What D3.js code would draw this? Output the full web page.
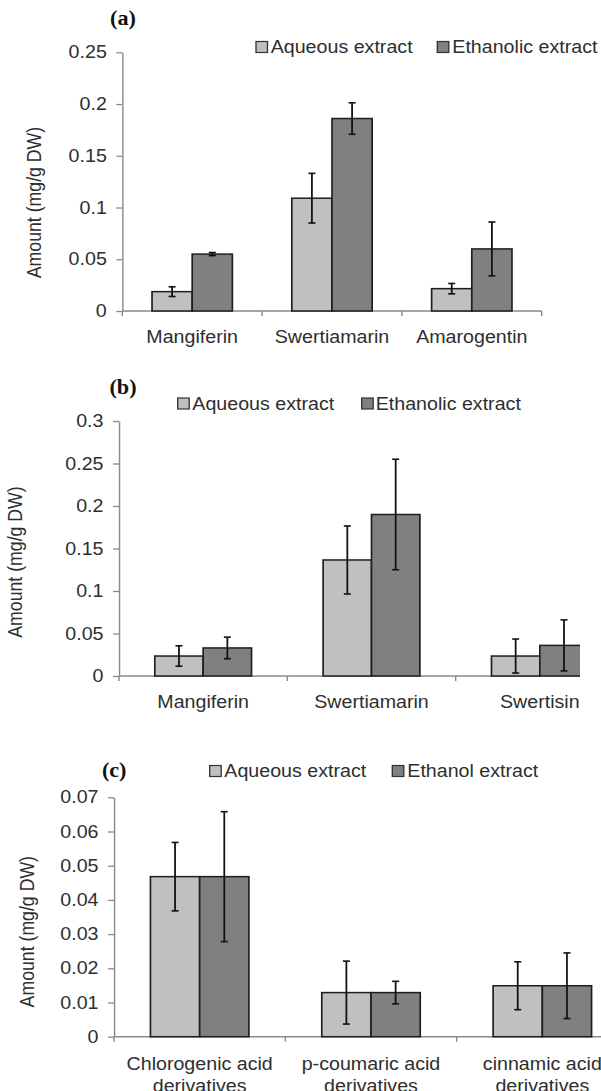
<!DOCTYPE html>
<html>
<head>
<meta charset="utf-8">
<script src="https://cdn.jsdelivr.net/npm/d3@7"></script>
<style>
  body { margin: 0; background: #fff; }
</style>
</head>
<body>
<script>
// datos de los tres paneles (a), (b), (c)

var catsA   = ["Mangiferin", "Swertiamarin", "Amarogentin"];
var aqA     = [0.0187, 0.109, 0.0216];
var aqErrA  = [0.0047, 0.024, 0.005];
var ethA    = [0.055, 0.186, 0.060];
var ethErrA = [0.0015, 0.0152, 0.026];
var ticksA  = [0, 0.05, 0.1, 0.15, 0.2, 0.25];
var legA    = ["Aqueous extract", "Ethanolic extract"];

var catsB   = ["Mangiferin", "Swertiamarin", "Swertisin"];
var aqB     = [0.0235, 0.1365, 0.0235];
var aqErrB  = [0.012, 0.04, 0.02];
var ethB    = [0.033, 0.19, 0.036];
var ethErrB = [0.0127, 0.065, 0.03];
var ticksB  = [0, 0.05, 0.1, 0.15, 0.2, 0.25, 0.3];
var legB    = ["Aqueous extract", "Ethanolic extract"];

var catsC   = [["Chlorogenic acid", "derivatives"],
               ["p-coumaric acid", "derivatives"],
               ["cinnamic acid", "derivatives"]];
var aqC     = [0.0468, 0.0129, 0.0149];
var aqErrC  = [0.010, 0.0092, 0.007];
var ethC    = [0.0468, 0.0129, 0.0149];
var ethErrC = [0.019, 0.0033, 0.0096];
var ticksC  = [0, 0.01, 0.02, 0.03, 0.04, 0.05, 0.06, 0.07];
var legC    = ["Aqueous extract", "Ethanol extract"];

// la figura original esta estirada horizontalmente
var SX = 1.11;
var FONT = "'Liberation Sans', Arial, sans-serif";
var FS = 17.7;
var AQ_FILL = "#c0c0c0", ETH_FILL = "#808080";
var AXIS = "#8a8a8a", INK = "#1e1e1e", TXT = "#2e2e2e";

var svg = d3.select("body").append("svg")
    .attr("width", 601)
    .attr("height", 1091);

var root = svg.append("g").attr("transform", "scale(" + SX + ",1)");

function sx(v) { return v / SX; }

function drawPanel(p, idx) {
    var g = root.append("g");
    var n = p.cats.length;

    var x = d3.scaleBand().domain(d3.range(n)).range([sx(p.x0), sx(p.x1)]);
    var sub = d3.scaleBand().domain([0, 1]).range([0, x.bandwidth()]).paddingOuter(0.74);
    var y = d3.scaleLinear().domain([0, p.ymax]).range([p.y0, p.yTop]);

    var plot = g;
    if (p.clip) {
        svg.append("clipPath").attr("id", "clip" + idx)
           .append("rect")
           .attr("x", 0).attr("y", 0)
           .attr("width", sx(p.clip)).attr("height", 1091);
        plot = g.append("g").attr("clip-path", "url(#clip" + idx + ")");
    }

    // eje de x con marcas entre categorias
    plot.append("line")
        .attr("x1", sx(p.x0)).attr("x2", sx(p.x1))
        .attr("y1", p.y0).attr("y2", p.y0)
        .attr("stroke", AXIS).attr("stroke-width", 1.5);

    var bounds = d3.range(n + 1).map(function(i) { return i < n ? x(i) : x.range()[1]; });
    plot.selectAll(null).data(bounds).join("line")
        .attr("x1", function(d) { return d; }).attr("x2", function(d) { return d; })
        .attr("y1", p.y0).attr("y2", p.y0 + 5)
        .attr("stroke", AXIS).attr("stroke-width", 1.3);

    // eje de y
    var yAxis = d3.axisLeft(y)
        .tickValues(p.ticks)
        .tickFormat(function(d) { return String(d); })
        .tickSizeOuter(0)
        .tickSizeInner(sx(6))
        .tickPadding(sx(9.5));

    var ya = g.append("g")
        .attr("transform", "translate(" + sx(p.x0) + ",0)")
        .call(yAxis);
    ya.select(".domain").attr("stroke", AXIS).attr("stroke-width", 1.3);
    ya.selectAll(".tick line").attr("stroke", AXIS).attr("stroke-width", 1.3);
    ya.selectAll(".tick text")
        .attr("fill", TXT)
        .style("font-family", FONT)
        .style("font-size", FS + "px");

    // barras y barras de error
    var series = [
        { vals: p.aq,  err: p.aqErr,  fill: AQ_FILL },
        { vals: p.eth, err: p.ethErr, fill: ETH_FILL }
    ];

    series.forEach(function(s, k) {
        plot.selectAll(null).data(s.vals).join("rect")
            .attr("x", function(d, i) { return x(i) + sub(k); })
            .attr("y", function(d) { return y(d); })
            .attr("width", sub.bandwidth())
            .attr("height", function(d) { return p.y0 - y(d); })
            .attr("fill", s.fill)
            .attr("stroke", INK)
            .attr("stroke-width", 1.5);
    });

    series.forEach(function(s, k) {
        var cx = function(d, i) { return x(i) + sub(k) + sub.bandwidth() / 2; };
        var eb = plot.selectAll(null).data(s.vals).join("g")
            .attr("stroke", "#111").attr("stroke-width", 1.6);
        eb.append("line")
            .attr("x1", cx).attr("x2", cx)
            .attr("y1", function(d, i) { return y(d + s.err[i]); })
            .attr("y2", function(d, i) { return y(d - s.err[i]); });
        [1, -1].forEach(function(sg) {
            eb.append("line")
                .attr("x1", function(d, i) { return cx(d, i) - sx(3.5); })
                .attr("x2", function(d, i) { return cx(d, i) + sx(3.5); })
                .attr("y1", function(d, i) { return y(d + sg * s.err[i]); })
                .attr("y2", function(d, i) { return y(d + sg * s.err[i]); });
        });
    });

    // etiquetas de categorias
    var labs = plot.selectAll(null).data(p.cats).join("text")
        .attr("text-anchor", "middle")
        .attr("fill", TXT)
        .style("font-family", FONT)
        .style("font-size", FS + "px");
    labs.each(function(d, i) {
        var lines = Array.isArray(d) ? d : [d];
        var t = d3.select(this);
        lines.forEach(function(line, j) {
            t.append("tspan")
                .attr("x", x(i) + x.bandwidth() / 2)
                .attr("y", p.catY + j * 22)
                .text(line);
        });
    });

    // leyenda
    var fills = [AQ_FILL, ETH_FILL];
    p.legend.forEach(function(name, k) {
        g.append("rect")
            .attr("x", sx(p.legBox[k]))
            .attr("y", p.legY - 5.5)
            .attr("width", sx(11.5))
            .attr("height", 11)
            .attr("fill", fills[k])
            .attr("stroke", "#333")
            .attr("stroke-width", 1.2);
        g.append("text")
            .attr("x", sx(p.legText[k]))
            .attr("y", p.legY)
            .attr("dy", "0.35em")
            .attr("fill", TXT)
            .style("font-family", FONT)
            .style("font-size", FS + "px")
            .text(name);
    });

    // titulo del panel
    g.append("text")
        .attr("x", sx(p.tagX))
        .attr("y", p.tagY)
        .attr("text-anchor", "middle")
        .attr("fill", "#111")
        .style("font-family", "'Liberation Serif', 'Times New Roman', serif")
        .style("font-weight", "bold")
        .style("font-size", "20px")
        .text(p.tag);

    // etiqueta del eje de y
    g.append("text")
        .attr("transform", "translate(" + sx(p.ylabX) + "," + p.ylabY + ") rotate(-90)")
        .attr("text-anchor", "middle")
        .attr("dy", "0.35em")
        .attr("fill", TXT)
        .style("font-family", FONT)
        .style("font-size", FS + "px")
        .text("Amount (mg/g DW)");
}

drawPanel({
    cats: catsA, aq: aqA, aqErr: aqErrA, eth: ethA, ethErr: ethErrA,
    ticks: ticksA, ymax: 0.25, legend: legA, tag: "(a)",
    x0: 122.3, x1: 541.7, y0: 311, yTop: 52.3,
    catY: 343, legY: 47, legBox: [256, 437.3], legText: [270.7, 452.3],
    tagX: 123, tagY: 25, ylabX: 34.5, ylabY: 202.5
}, 0);

drawPanel({
    cats: catsB, aq: aqB, aqErr: aqErrB, eth: ethB, ethErr: ethErrB,
    ticks: ticksB, ymax: 0.3, legend: legB, tag: "(b)",
    x0: 119, x1: 624, y0: 676, yTop: 421, clip: 580,
    catY: 708, legY: 403.5, legBox: [177.7, 361.7], legText: [192.3, 375.7],
    tagX: 123, tagY: 394, ylabX: 15.5, ylabY: 562
}, 1);

drawPanel({
    cats: catsC, aq: aqC, aqErr: aqErrC, eth: ethC, ethErr: ethErrC,
    ticks: ticksC, ymax: 0.07, legend: legC, tag: "(c)",
    x0: 114, x1: 628, y0: 1036.7, yTop: 797.3,
    catY: 1070.5, legY: 771, legBox: [209.7, 392.3], legText: [224.3, 407.3],
    tagX: 114.2, tagY: 777, ylabX: 27.5, ylabY: 931.7
}, 2);
</script>
</body>
</html>
